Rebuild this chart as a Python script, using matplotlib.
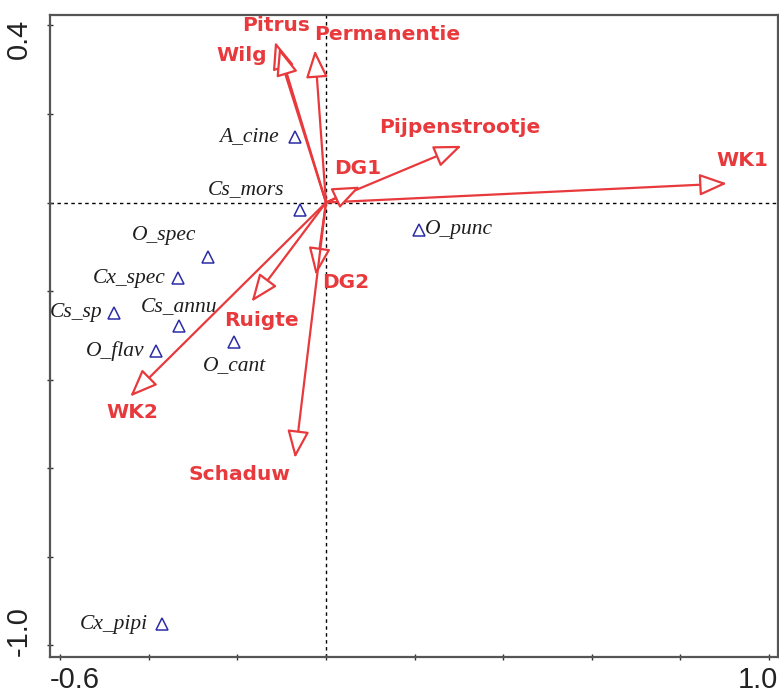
import matplotlib
matplotlib.use("Agg")
import matplotlib.pyplot as plt
from matplotlib.patches import FancyArrowPatch
from matplotlib.transforms import ScaledTranslation

# Environmental variables (biplot arrows)
env_names = ["WK1", "WK2", "Ruigte", "DG2", "Schaduw", "Pitrus", "Wilg",
             "Permanentie", "Pijpenstrootje", "DG1"]
env_x = [0.905, -0.442, -0.168, -0.023, -0.070, -0.115, -0.106, -0.025, 0.306, 0.077]
env_y = [0.043, -0.438, -0.224, -0.164, -0.577, 0.363, 0.349, 0.344, 0.128, 0.036]

# Species scores
species = ["A_cine", "Cs_mors", "O_punc", "O_spec", "Cx_spec", "Cs_sp",
           "Cs_annu", "O_flav", "O_cant", "Cx_pipi"]
sp_x = [-0.070, -0.059, 0.211, -0.266, -0.333, -0.478, -0.331, -0.384, -0.208, -0.370]
sp_y = [0.149, -0.017, -0.062, -0.122, -0.171, -0.249, -0.279, -0.335, -0.316, -0.952]

x_ticks = [-0.6, -0.4, -0.2, 0.0, 0.2, 0.4, 0.6, 0.8, 1.0]
y_ticks = [-1.0, -0.8, -0.6, -0.4, -0.2, 0.0, 0.2, 0.4]
x_labels = ["-0.6", "", "", "", "", "", "", "", "1.0"]
y_labels = ["-1.0", "", "", "", "", "", "", "0.4"]

RED = "#e8393c"
BLUE = "#2b2ba6"

# label offsets in pixels (dx right, dy up) and alignment
env_offsets = {
    "WK1": (15, 23), "WK2": (2, -16), "Ruigte": (10, -19), "DG2": (30, -7),
    "Schaduw": (-55, -16), "Pitrus": (1, 16), "Wilg": (-37, -8),
    "Permanentie": (72, 16), "Pijpenstrootje": (-2, 18), "DG1": (-2, 18),
}
sp_offsets = {
    "A_cine": (-16, 0, "right"), "Cs_mors": (-54, 20, "center"),
    "O_punc": (5, 0, "left"), "O_spec": (-44, 21, "center"),
    "Cx_spec": (-13, 0, "right"), "Cs_sp": (-12, 0, "right"),
    "Cs_annu": (0, 20, "center"), "O_flav": (-11, 0, "right"),
    "O_cant": (1, -23, "center"), "Cx_pipi": (-14, 0, "right"),
}

fig = plt.figure(figsize=(7.79, 6.95), dpi=100)
ax = fig.add_axes([50 / 779, 38 / 695, 728 / 779, 642 / 695])
ax.set_xlim(-0.623, 1.0203)
ax.set_ylim(-1.026, 0.4233)

# origin cross-hairs
ax.axhline(0, color="black", lw=1.0, ls=(0, (2.5, 2.5)), zorder=1)
ax.axvline(0, color="black", lw=1.0, ls=(0, (2.5, 2.5)), zorder=1)

# species triangles
ax.plot(sp_x, sp_y, ls="none", marker="^", ms=8.5, mfc="none", mec=BLUE,
        mew=1.1, zorder=3)
for name, x, y in zip(species, sp_x, sp_y):
    dx, dy, ha = sp_offsets[name]
    ax.annotate(name, (x, y), xytext=(dx, dy), textcoords="offset pixels",
                ha=ha, va="center", fontsize=15.5, style="italic",
                family="Liberation Serif", color="#1e1e1e", zorder=4)

# environmental arrows
for name, x, y in zip(env_names, env_x, env_y):
    arr = FancyArrowPatch((0, 0), (x, y),
                          arrowstyle="-|>,head_length=1.0,head_width=0.4",
                          mutation_scale=17, shrinkA=0, shrinkB=0,
                          lw=1.6, edgecolor=RED, facecolor="white", zorder=5)
    ax.add_patch(arr)
    dx, dy = env_offsets[name]
    ax.annotate(name, (x, y), xytext=(dx, dy), textcoords="offset pixels",
                ha="center", va="center", fontsize=14.5, fontweight="bold",
                family="DejaVu Sans", color=RED, zorder=6)

# axes frame and ticks
for sp in ax.spines.values():
    sp.set_color("#555555")
    sp.set_linewidth(1.6)
ax.set_xticks(x_ticks, x_labels)
ax.set_yticks(y_ticks, y_labels)
ax.tick_params(direction="inout", length=5, width=1, color="#333333",
               labelsize=21)
ax.tick_params(axis="x", pad=4)
ax.tick_params(axis="y", pad=10)
for lab in ax.get_xticklabels() + ax.get_yticklabels():
    lab.set_family("Liberation Sans")
    lab.set_color("#222222")

xl = ax.get_xticklabels()
xl[0].set_ha("left")
xl[0].set_transform(xl[0].get_transform() + ScaledTranslation(-0.10, 0, fig.dpi_scale_trans))
xl[-1].set_ha("right")
xl[-1].set_transform(xl[-1].get_transform() + ScaledTranslation(0.09, 0, fig.dpi_scale_trans))

yl = ax.get_yticklabels()
for lab in yl:
    lab.set_rotation(90)
yl[0].set_va("bottom")
yl[0].set_transform(yl[0].get_transform() + ScaledTranslation(0, -0.11, fig.dpi_scale_trans))
yl[-1].set_va("top")
yl[-1].set_transform(yl[-1].get_transform() + ScaledTranslation(0, 0.07, fig.dpi_scale_trans))

fig.savefig("out.png", dpi=100)
